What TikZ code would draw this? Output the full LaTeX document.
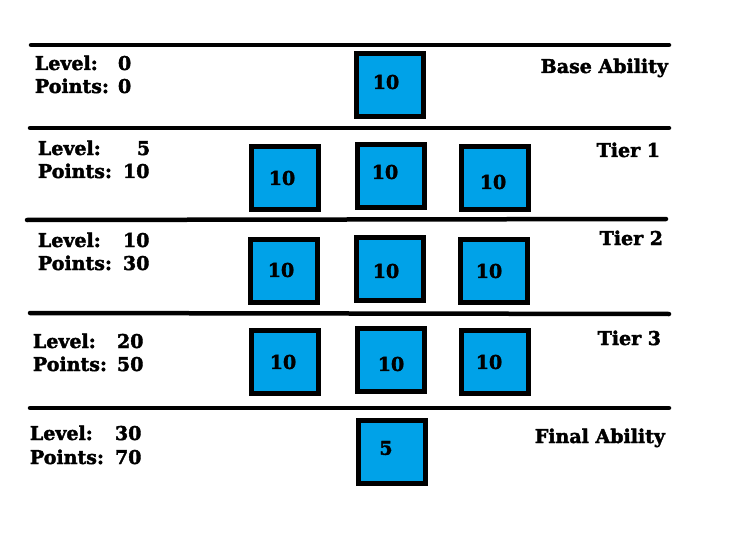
\documentclass[tikz,border=0pt]{standalone}
\usepackage{fontspec}
\newfontfamily\heavyfont{DejaVu Serif Bold}[FakeBold=2]
\definecolor{paintblue}{HTML}{00A2E8}
\tikzset{
  sep/.style={line width=4.5pt,line cap=round},
  abox/.style={draw=black,fill=paintblue,line width=5pt,minimum width=67pt,minimum height=63pt,inner sep=0pt,outer sep=0pt},
  lbl/.style={inner sep=0pt,outer sep=0pt,anchor=base west,font=\fontsize{19pt}{20pt}\heavyfont},
  rlbl/.style={lbl,anchor=base east},
  num/.style={inner sep=0pt,outer sep=0pt,anchor=center,font=\fontsize{19pt}{20pt}\heavyfont}
}
\begin{document}
\begin{tikzpicture}[x=1pt,y=-1pt]
\useasboundingbox[fill=white] (0,0) rectangle (748,535);
% separator lines
\coordinate (l1a) at (31,45);  \coordinate (l1b) at (669,45);
\coordinate (l2a) at (30,128); \coordinate (l2b) at (669,128);
\coordinate (l3a) at (27,220); \coordinate (l3b) at (666,219);
\coordinate (l4a) at (30,313); \coordinate (l4b) at (669,314);
\coordinate (l5a) at (30,408); \coordinate (l5b) at (669,408);
\draw[sep] (l1a) -- (l1b);
\draw[sep] (l2a) -- (l2b);
\draw[sep] (l3a) -- (l3b);
\draw[sep] (l4a) -- (l4b);
\draw[sep] (l5a) -- (l5b);
% boxes
\node[abox] (b1) at (390,85.5) {};
\node[abox] (b2l) at (285,178) {};
\node[abox] (b2m) at (391,176) {};
\node[abox] (b2r) at (495,178) {};
\node[abox] (b3l) at (284,271) {};
\node[abox] (b3m) at (390,269) {};
\node[abox] (b3r) at (494,271) {};
\node[abox] (b4l) at (285,362) {};
\node[abox] (b4m) at (391,360) {};
\node[abox] (b4r) at (495,362) {};
\node[abox] (b5) at (391.5,452) {};
% numbers
\node[num] (n1) at (386,82) {10};
\node[num] (n2l) at (282,178) {10};
\node[num] (n2m) at (385,172) {10};
\node[num] (n2r) at (493,182) {10};
\node[num] (n3l) at (281,270) {10};
\node[num] (n3m) at (386,271) {10};
\node[num] (n3r) at (489,271) {10};
\node[num] (n4l) at (283,362) {10};
\node[num] (n4m) at (391,364) {10};
\node[num] (n4r) at (489,362) {10};
\node[num] (n5) at (386,448) {5};
% left labels
\node[lbl] (lv1) at (35,70) {Level:};   \node[lbl] (lv1v) at (118,70) {0};
\node[lbl] (pt1) at (35,93) {Points:};  \node[lbl] (pt1v) at (118,93) {0};
\node[lbl] (lv2) at (38,155) {Level:};  \node[lbl] (lv2v) at (137,155) {5};
\node[lbl] (pt2) at (38,178) {Points:}; \node[lbl] (pt2v) at (123,178) {10};
\node[lbl] (lv3) at (38,247) {Level:};  \node[lbl] (lv3v) at (123,247) {10};
\node[lbl] (pt3) at (38,270) {Points:}; \node[lbl] (pt3v) at (123,270) {30};
\node[lbl] (lv4) at (33,348) {Level:};  \node[lbl] (lv4v) at (117,348) {20};
\node[lbl] (pt4) at (33,371) {Points:}; \node[lbl] (pt4v) at (117,371) {50};
\node[lbl] (lv5) at (30,440) {Level:};  \node[lbl] (lv5v) at (115,440) {30};
\node[lbl] (pt5) at (30,464) {Points:}; \node[lbl] (pt5v) at (115,464) {70};
% right labels
\node[rlbl] (t0) at (668,73) {Base Ability};
\node[rlbl] (t1) at (660,157) {Tier 1};
\node[rlbl] (t2) at (663,245) {Tier 2};
\node[rlbl] (t3) at (661,345) {Tier 3};
\node[rlbl] (t4) at (665,443) {Final Ability};
\end{tikzpicture}
\end{document}
